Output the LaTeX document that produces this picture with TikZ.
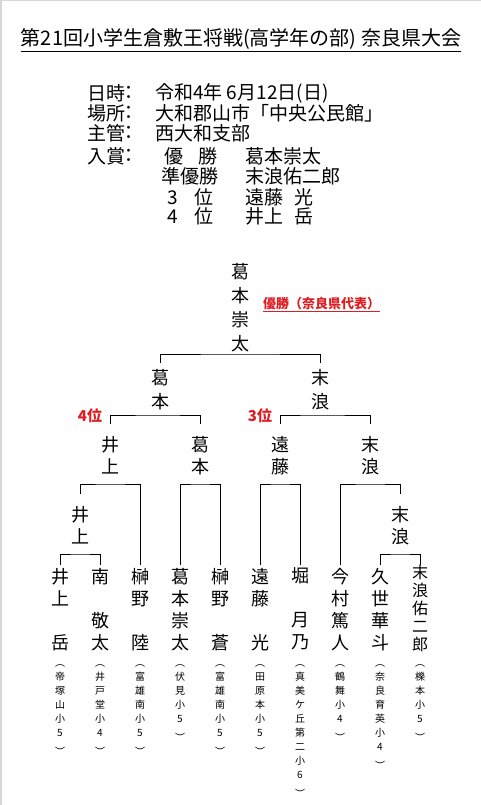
\documentclass[tikz,border=0pt]{standalone}
\usepackage{fontspec}
\setmainfont{Noto Sans CJK JP}
\definecolor{winred}{RGB}{220,30,35}
\definecolor{edgegray}{RGB}{215,215,215}
\newcommand\fz[2]{\fontsize{#1}{#2}\selectfont}
\begin{document}
\begin{tikzpicture}[x=1pt,y=-1pt,
  pl/.style={anchor=north,align=center,inner xsep=0pt,inner ysep=2.8pt,font=\fz{18}{22},execute at begin node={\rule{0pt}{0.89em}}},
  pltop/.style={pl,font=\fz{18}{24}},
  sch/.style={anchor=north,align=center,inner sep=0pt,font=\fz{10}{14},execute at begin node={\rule{0pt}{9pt}}},
  info/.style={anchor=west,inner sep=0pt,font=\fz{19}{22}},
  rank/.style={font=\bfseries\fz{15}{18},text=winred,inner sep=0pt},
  brk/.style={line width=0.8pt,black}]
\useasboundingbox (0,0) rectangle (481,805);
\fill[white] (0,0) rectangle (481,805);
\draw[edgegray,line width=4pt] (0,0) -- (0,805);
\draw[edgegray,line width=2pt] (0,0) -- (481,0);

\node[font=\fz{20}{24},inner sep=0pt] (ttl) at (241,39.5) {第21回小学生倉敷王将戦(高学年の部) 奈良県大会};
\draw[line width=0.8pt] ([yshift=-1pt]ttl.south west) -- ([yshift=-1pt]ttl.south east);

\node[info] (l1) at (87,93) {日時};
\node[info] (c1) at (119,93) {：};
\node[info] (v1) at (155,93) {令和4年 6月12日(日)};
\node[info] (l2) at (87,113) {場所};
\node[info] (c2) at (119,113) {：};
\node[info] (v2) at (155,113) {大和郡山市「中央公民館」};
\node[info] (l3) at (87,133) {主管};
\node[info] (c3) at (119,133) {：};
\node[info] (v3) at (155,133) {西大和支部};
\node[info] (l4) at (87,156) {入賞};
\node[info] (c4) at (119,156) {：};
\node[info,anchor=center] (r1) at (191,156) {優\hspace{0.75em}勝};
\node[info,anchor=center] (r2) at (190,176) {準優勝};
\node[info,anchor=center] (r3) at (190.5,197) {3\hspace{0.9em}位};
\node[info,anchor=center] (r4) at (190.5,216) {4\hspace{0.9em}位};
\node[info] (w1) at (245,156) {葛本崇太};
\node[info] (w2) at (245,176) {末浪佑二郎};
\node[info] (w3) at (245,197) {遠藤\hspace{0.6em}光};
\node[info] (w4) at (245,216) {井上\hspace{0.6em}岳};

\node[pltop] (ch) at (240,260) {葛\\本\\崇\\太};
\node[font=\bfseries\fz{13}{16},text=winred,inner sep=0pt,anchor=west] (rep) at (263,304) {優勝（奈良県代表）};
\draw[winred,line width=0.8pt] ([yshift=-1pt]rep.south west) -- ([yshift=-1pt]rep.south east);

\node[pltop,inner ysep=5.8pt] (k2) at (160,363) {葛\\本};
\node[pltop,inner ysep=5.8pt] (s2) at (320,363) {末\\浪};
\node[pl,inner ysep=11.8pt] (i3) at (110,424) {井\\上};
\node[pl,inner ysep=11.8pt] (k3) at (200,424) {葛\\本};
\node[pl,inner ysep=11.8pt] (e3) at (280,424) {遠\\藤};
\node[pl,inner ysep=11.8pt] (s3) at (370,424) {末\\浪};
\node[pl,inner ysep=11.8pt] (i4) at (80,494) {井\\上};
\node[pl,inner ysep=11.8pt] (s4) at (400,494) {末\\浪};

\node[pl] (p1) at (60,565) {井\\上\\\\岳};
\node[pl] (p2) at (100,565) {南\\\\敬\\太};
\node[pl] (p3) at (140,565) {榊\\野\\\\陸};
\node[pl] (p4) at (180,565) {葛\\本\\崇\\太};
\node[pl] (p5) at (220,565) {榊\\野\\\\蒼};
\node[pl] (p6) at (260,565) {遠\\藤\\\\光};
\node[pl] (p7) at (300,565) {堀\\\\月\\乃};
\node[pl] (p8) at (340,565) {今\\村\\篤\\人};
\node[pl] (p9) at (380,565) {久\\世\\華\\斗};
\node[pl,font=\fz{16}{18},inner ysep=0pt] (p10) at (420,565) {末\\浪\\佑\\二\\郎};

\node[rank] (q4) at (90,416) {4位};
\node[rank] (q3) at (260,416) {3位};

\coordinate (j1) at (240,354);
\coordinate (j2) at (160,415);
\coordinate (j3) at (320,415);
\coordinate (j4) at (110,484);
\coordinate (j5) at (200,484);
\coordinate (j6) at (280,484);
\coordinate (j7) at (370,484);
\coordinate (j8) at (80,554);
\coordinate (j9) at (400,554);
\draw[brk] (k2.north) |- (j1) -| (s2.north);
\draw[brk] (i3.north) |- (j2) -| (k3.north);
\draw[brk] (e3.north) |- (j3) -| (s3.north);
\draw[brk] (i4.north) |- (j4) -| (p3.north);
\draw[brk] (p4.north) |- (j5) -| (p5.north);
\draw[brk] (p6.north) |- (j6) -| (p7.north);
\draw[brk] (p8.north) |- (j7) -| (s4.north);
\draw[brk] (p1.north) |- (j8) -| (p2.north);
\draw[brk] (p9.north) |- (j9) -| (p10.north);

\node[sch] (h1) at (60,664) {︵\\帝\\塚\\山\\小\\5\\[5pt]︶};
\node[sch] (h2) at (100,664) {︵\\井\\戸\\堂\\小\\4\\[5pt]︶};
\node[sch] (h3) at (140,664) {︵\\富\\雄\\南\\小\\5\\[5pt]︶};
\node[sch] (h4) at (180,664) {︵\\伏\\見\\小\\5\\[5pt]︶};
\node[sch] (h5) at (220,664) {︵\\富\\雄\\南\\小\\5\\[5pt]︶};
\node[sch] (h6) at (260,664) {︵\\田\\原\\本\\小\\5\\[5pt]︶};
\node[sch] (h7) at (300,664) {︵\\真\\美\\ケ\\丘\\第\\二\\小\\6\\[5pt]︶};
\node[sch] (h8) at (340,664) {︵\\鶴\\舞\\小\\4\\[5pt]︶};
\node[sch] (h9) at (380,664) {︵\\奈\\良\\育\\英\\小\\4\\[5pt]︶};
\node[sch] (h10) at (420,664) {︵\\櫟\\本\\小\\5\\[5pt]︶};
\end{tikzpicture}
\end{document}
